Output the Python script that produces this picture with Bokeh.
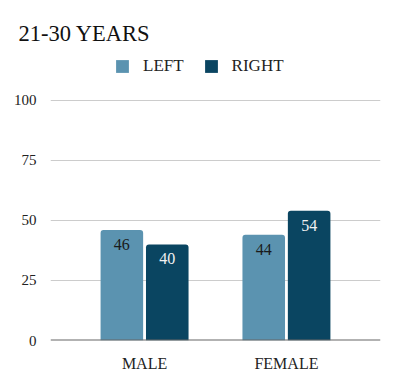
from bokeh.plotting import figure
from bokeh.models import ColumnDataSource, FactorRange, Range1d, Span, LabelSet, Legend, LegendItem, Title
from bokeh.transform import dodge
from bokeh.embed import file_html
from bokeh.resources import INLINE

categories = ["MALE", "FEMALE"]
left_vals = [46, 44]
right_vals = [40, 54]
series_names = ["LEFT", "RIGHT"]
y_ticks = [0, 25, 50, 75, 100]
title_text = "21-30 YEARS"

FONT = "Liberation Serif"
C_LEFT = "#5b93b0"
C_RIGHT = "#0a4561"

src = ColumnDataSource(dict(cat=categories, left=left_vals, right=right_vals,
                            left_s=[str(v) for v in left_vals],
                            right_s=[str(v) for v in right_vals]))

# frame extends above 100 to leave room for the legend (no ticks/grid there)
p = figure(width=400, height=385, output_backend="svg", toolbar_location=None,
           x_range=FactorRange(factors=categories, range_padding=0.163),
           y_range=Range1d(0, 118.3),
           min_border_left=50, min_border_right=20, min_border_bottom=45, min_border_top=56)

p.outline_line_color = None
p.background_fill_color = "white"
p.border_fill_color = "white"

r_left = p.vbar(x=dodge("cat", -0.16, range=p.x_range), top="left", width=0.30, source=src,
                fill_color=C_LEFT, line_color=None, border_radius=(3, 3, 0, 0))
r_right = p.vbar(x=dodge("cat", 0.16, range=p.x_range), top="right", width=0.30, source=src,
                 fill_color=C_RIGHT, line_color=None, border_radius=(3, 3, 0, 0))

lab_l = LabelSet(x=dodge("cat", -0.16, range=p.x_range), y="left", text="left_s", source=src,
                 text_align="center", text_baseline="top", y_offset=-9,
                 text_font=FONT, text_font_size="16px", text_color="#1a1a1a")
lab_r = LabelSet(x=dodge("cat", 0.16, range=p.x_range), y="right", text="right_s", source=src,
                 text_align="center", text_baseline="top", y_offset=-9,
                 text_font=FONT, text_font_size="16px", text_color="#f2f2f2")
p.add_layout(lab_l)
p.add_layout(lab_r)

p.add_layout(Span(location=0, dimension="width", line_color="#666666", line_width=2))

p.yaxis.ticker = y_ticks
p.yaxis.axis_line_color = None
p.yaxis.major_tick_line_color = None
p.yaxis.minor_tick_line_color = None
p.yaxis.major_label_standoff = 8
p.yaxis.major_label_text_font = FONT
p.yaxis.major_label_text_font_size = "15px"
p.yaxis.major_label_text_color = "#222222"

p.xaxis.axis_line_color = None
p.xaxis.major_tick_line_color = None
p.xaxis.major_label_standoff = 8
p.xaxis.major_label_text_font = FONT
p.xaxis.major_label_text_font_size = "16px"
p.xaxis.major_label_text_color = "#222222"

p.xgrid.grid_line_color = None
p.ygrid.grid_line_color = "#cccccc"
p.ygrid.grid_line_width = 1

legend = Legend(items=[LegendItem(label=series_names[0], renderers=[r_left]),
                       LegendItem(label=series_names[1], renderers=[r_right])],
                orientation="horizontal", location=(64, 264),
                label_text_font=FONT, label_text_font_size="17px", label_text_color="#222222",
                glyph_width=16, glyph_height=16, label_height=20, spacing=19, padding=4, margin=0,
                label_standoff=13,
                border_line_color=None, background_fill_alpha=0)
p.add_layout(legend, "center")

p.title = Title(text=title_text, text_font=FONT, text_font_size="22.5px",
                text_font_style="normal", text_color="#111111", offset=-32, standoff=21)
p.title_location = "above"

open("out.html", "w").write(file_html(p, INLINE))
